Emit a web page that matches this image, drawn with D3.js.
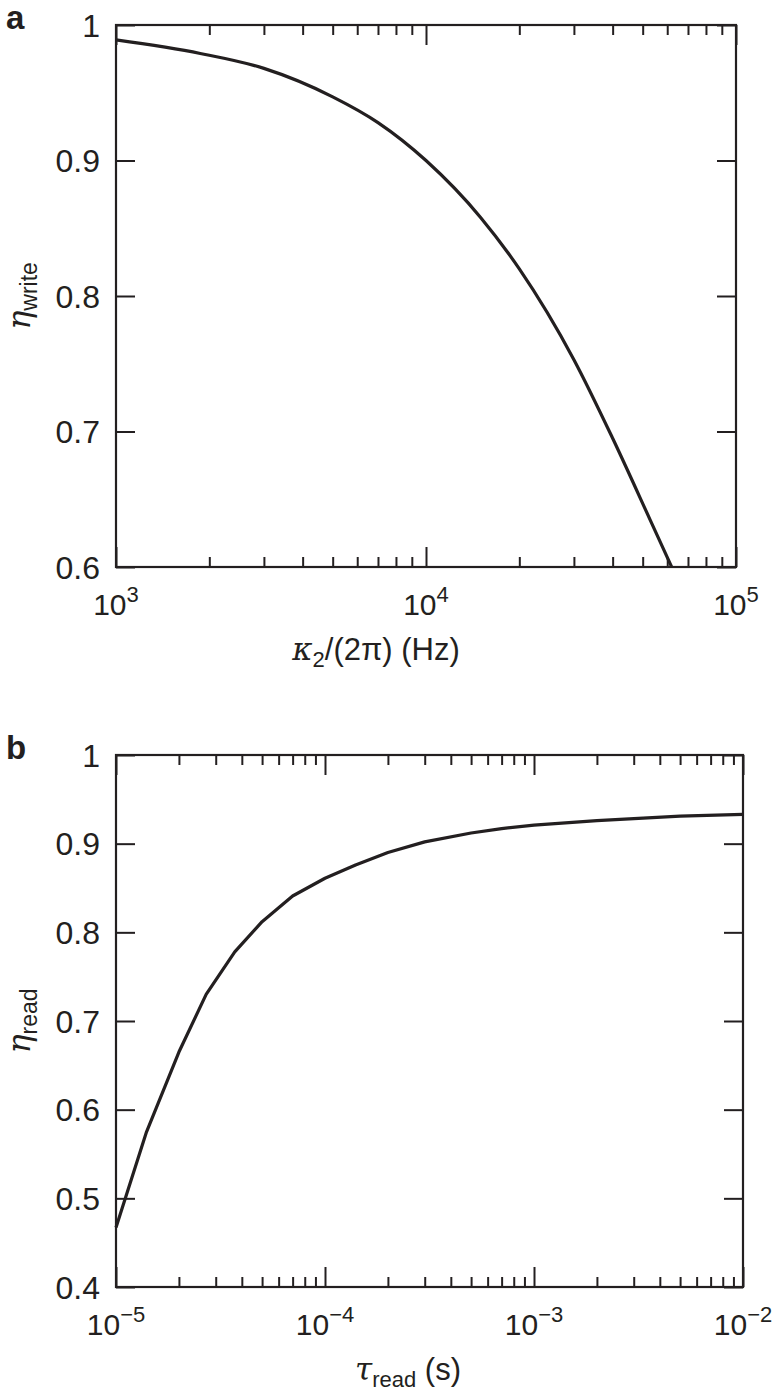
<!DOCTYPE html>
<html>
<head>
<meta charset="utf-8">
<script src="https://cdn.jsdelivr.net/npm/d3@7"></script>
<style>
  body { margin: 0; background: #fff; }
  svg { display: block; }
  text { font-family: "Liberation Sans", Arial, Helvetica, sans-serif; fill: #231f20; }
</style>
</head>
<body>
<svg id="chart" width="781" height="1392"></svg>
<script>

// panel a: write efficiency vs kappa_2 / 2pi
let kappaHz = [1e3, 1.87e3, 3e3, 5e3, 7e3, 1e4, 1.5e4, 2e4, 3e4, 4e4, 5.28e4, 6.2e4]
let etaWrite = [0.989, 0.979, 0.968, 0.947, 0.928, 0.900, 0.858, 0.820, 0.753, 0.695, 0.635, 0.600]
let yTicksA = [0.6, 0.7, 0.8, 0.9, 1]
let xDecadesA = [3, 4, 5]

// panel b: read efficiency vs tau_read
let tauRead = [1e-5, 1.4e-5, 2e-5, 2.7e-5, 3.7e-5, 5e-5, 7e-5, 1e-4, 1.4e-4, 2e-4, 3e-4, 5e-4, 7e-4, 1e-3, 2e-3, 5e-3, 1e-2]
let etaRead = [0.467, 0.575, 0.665, 0.730, 0.778, 0.812, 0.841, 0.861, 0.876, 0.890, 0.902, 0.912, 0.917, 0.921, 0.926, 0.931, 0.933]
let yTicksB = [0.4, 0.5, 0.6, 0.7, 0.8, 0.9, 1]
let xDecadesB = [-5, -4, -3, -2]

let ink = "#231f20"
let svg = d3.select('#chart')

function draw_panel(opts){
    let x = d3.scaleLog().domain(opts.xDomain).range([opts.left, opts.right])
    let y = d3.scaleLinear().domain(opts.yDomain).range([opts.bottom, opts.top])
    let g = svg.append('g')

    // minor log ticks (2..9 inside every decade)
    let minor = []
    for (let d = opts.decades[0]; d < opts.decades[opts.decades.length - 1]; d++) {
        for (let m = 2; m < 10; m++) minor.push(m * Math.pow(10, d))
    }
    let major = opts.decades.map(d => Math.pow(10, d))

    let addAxis = (axis, tr) => {
        let a = g.append('g').attr('transform', tr).call(axis)
        a.select('.domain').remove()
        a.selectAll('line').attr('stroke', ink).attr('stroke-width', 2)
        a.selectAll('text').remove()
    }
    addAxis(d3.axisBottom(x).tickValues(minor).tickSize(-10), `translate(0,${opts.bottom})`)
    addAxis(d3.axisTop(x).tickValues(minor).tickSize(-10), `translate(0,${opts.top})`)
    addAxis(d3.axisBottom(x).tickValues(major).tickSize(-20), `translate(0,${opts.bottom})`)
    addAxis(d3.axisTop(x).tickValues(major).tickSize(-20), `translate(0,${opts.top})`)
    addAxis(d3.axisLeft(y).tickValues(opts.yTicks).tickSize(-19), `translate(${opts.left},0)`)
    addAxis(d3.axisRight(y).tickValues(opts.yTicks).tickSize(-19), `translate(${opts.right},0)`)

    g.append('rect')
        .attr('x', opts.left).attr('y', opts.top)
        .attr('width', opts.right - opts.left).attr('height', opts.bottom - opts.top)
        .attr('fill', 'none').attr('stroke', ink).attr('stroke-width', 2.2)

    // y tick labels
    g.selectAll('.ylab')
        .data(opts.yTicks)
        .join('text')
            .attr('x', opts.left - 16)
            .attr('y', d => y(d))
            .attr('dy', '0.36em')
            .attr('text-anchor', 'end')
            .attr('font-size', 32)
            .text(d => d === 1 ? '1' : d3.format('.1f')(d))

    // x tick labels 10^n
    let xl = g.selectAll('.xlab')
        .data(opts.decades)
        .join('text')
            .attr('x', d => x(Math.pow(10, d)))
            .attr('y', opts.bottom + 48)
            .attr('text-anchor', 'middle')
            .attr('font-size', 30)
    xl.append('tspan').text('10')
    xl.append('tspan').attr('font-size', 22).attr('dy', -13).text(d => d < 0 ? '\u2212' + (-d) : d)

    // curve
    let line = d3.line()
        .x((d, i) => x(opts.xs[i]))
        .y(d => y(d))
        .curve(opts.curve)
    g.append('path')
        .datum(opts.ys)
        .attr('d', line)
        .attr('fill', 'none')
        .attr('stroke', ink)
        .attr('stroke-width', 3.2)
        .attr('stroke-linejoin', 'round')

    // panel letter
    g.append('text')
        .attr('x', 6).attr('y', opts.top + 4)
        .attr('font-size', 33).attr('font-weight', 'bold')
        .text(opts.letter)

    // y label
    let yl = g.append('text')
        .attr('transform', `translate(30,${(opts.top + opts.bottom) / 2}) rotate(-90)`)
        .attr('text-anchor', 'middle')
        .attr('font-size', 32)
    yl.append('tspan').attr('font-family', '"DejaVu Serif", serif').attr('font-style', 'italic').text('\u03b7')
    yl.append('tspan').attr('font-size', 23).attr('dy', 7).text(opts.ySub)

    // x label
    let xt = g.append('text')
        .attr('x', opts.xLabelX).attr('y', opts.bottom + 93)
        .attr('text-anchor', 'middle')
        .attr('font-size', 31)
    opts.xLabel(xt)
}

draw_panel({
    letter: 'a', left: 116, right: 736, top: 25, bottom: 567,
    xDomain: [1e3, 1e5], yDomain: [0.6, 1], yTicks: yTicksA, decades: xDecadesA,
    xs: kappaHz, ys: etaWrite, curve: d3.curveMonotoneX, ySub: 'write', xLabelX: 376,
    xLabel: t => {
        t.append('tspan').attr('font-family', '"DejaVu Serif", serif').attr('font-style', 'italic').text('\u03ba')
        t.append('tspan').attr('font-size', 22).attr('dy', 7).text('2')
        t.append('tspan').attr('dy', -7).text('/(2\u03c0) (Hz)')
    }
})

draw_panel({
    letter: 'b', left: 116, right: 743, top: 755, bottom: 1287,
    xDomain: [1e-5, 1e-2], yDomain: [0.4, 1], yTicks: yTicksB, decades: xDecadesB,
    xs: tauRead, ys: etaRead, curve: d3.curveLinear, ySub: 'read', xLabelX: 408,
    xLabel: t => {
        t.append('tspan').attr('font-family', '"DejaVu Serif", serif').attr('font-style', 'italic').text('\u03c4')
        t.append('tspan').attr('font-size', 22).attr('dy', 7).text('read')
        t.append('tspan').attr('dy', -7).text(' (s)')
    }
})

</script>
</body>
</html>
